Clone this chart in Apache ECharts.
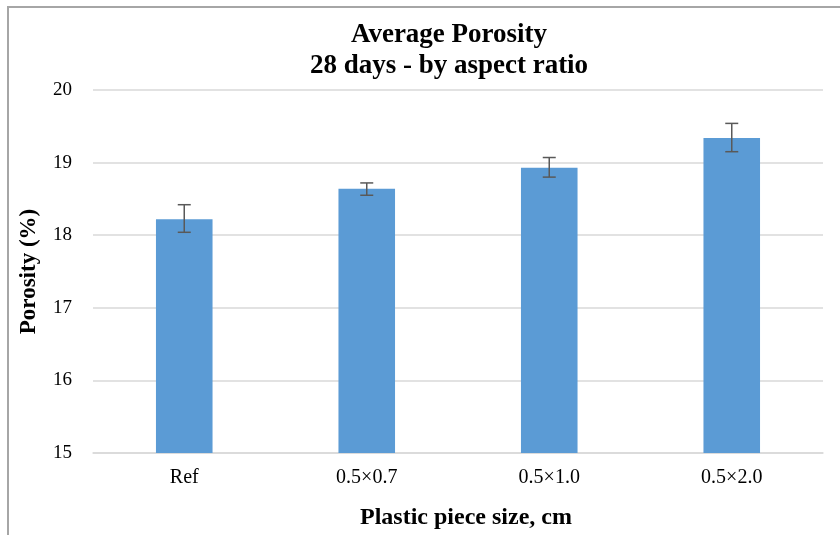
<!DOCTYPE html>
<html>
<head>
<meta charset="utf-8">
<script src="https://cdn.jsdelivr.net/npm/echarts@6/dist/echarts.min.js"></script>
<style>
html,body{margin:0;padding:0;background:#fff;}
#c{width:840px;height:535px;}
</style>
</head>
<body>
<div id="c"></div>
<script>
var categories = ['Ref', '0.5×0.7', '0.5×1.0', '0.5×2.0'];
var porosity = [18.22, 18.64, 18.93, 19.34];
var errLow = [18.04, 18.55, 18.80, 19.15];
var errHigh = [18.42, 18.72, 19.07, 19.54];
var yTicks = [15, 16, 17, 18, 19, 20];

var chart = echarts.init(document.getElementById('c'), null, {renderer: 'canvas'});
var serif = '"Liberation Serif", "Times New Roman", serif';

var errData = categories.map(function (c, i) { return [i, errLow[i], errHigh[i]]; });

chart.setOption({
  animation: false,
  backgroundColor: '#ffffff',
  title: {
    text: 'Average Porosity\n28 days - by aspect ratio',
    left: 444,
    textAlign: 'center',
    top: 15,
    textStyle: {fontFamily: serif, fontWeight: 'bold', fontSize: 27, color: '#000', lineHeight: 31}
  },
  graphic: [{
    type: 'rect',
    shape: {x: 8, y: 7, width: 850, height: 560},
    style: {fill: 'none', stroke: '#a6a6a6', lineWidth: 2},
    silent: true, z: -1
  }],
  grid: {left: 93, right: 17, top: 90, bottom: 82, outerBoundsMode: 'none', containLabel: false},
  xAxis: {
    type: 'category',
    data: categories,
    name: 'Plastic piece size, cm',
    nameLocation: 'middle',
    nameGap: 53,
    nameTextStyle: {fontFamily: serif, fontWeight: 'bold', fontSize: 24, color: '#000', padding: [0, 0, 0, 16]},
    axisLine: {lineStyle: {color: '#d9d9d9', width: 1.5}},
    axisTick: {show: false},
    axisLabel: {fontFamily: serif, fontSize: 20, color: '#000', margin: 15}
  },
  yAxis: {
    type: 'value',
    min: 15, max: 20, interval: 1,
    name: 'Porosity (%)',
    nameLocation: 'middle',
    nameGap: 52,
    nameTextStyle: {fontFamily: serif, fontWeight: 'bold', fontSize: 23, color: '#000'},
    axisLine: {show: false},
    axisTick: {show: false},
    axisLabel: {fontFamily: serif, fontSize: 19, color: '#000', margin: 21,
      formatter: function (v) { return yTicks.indexOf(v) >= 0 ? String(v) : ''; }},
    splitLine: {lineStyle: {color: '#d9d9d9', width: 1.5}}
  },
  series: [{
    type: 'bar',
    data: porosity,
    barWidth: '31%',
    itemStyle: {color: '#5b9bd5'}
  }, {
    type: 'custom',
    data: errData,
    z: 10,
    renderItem: function (params, api) {
      var x = api.value(0);
      var lo = api.coord([x, api.value(1)]);
      var hi = api.coord([x, api.value(2)]);
      var hw = 6.5;
      var st = {stroke: '#595959', lineWidth: 1.5};
      return {
        type: 'group',
        children: [
          {type: 'line', shape: {x1: lo[0], y1: lo[1], x2: hi[0], y2: hi[1]}, style: st},
          {type: 'line', shape: {x1: lo[0] - hw, y1: lo[1], x2: lo[0] + hw, y2: lo[1]}, style: st},
          {type: 'line', shape: {x1: hi[0] - hw, y1: hi[1], x2: hi[0] + hw, y2: hi[1]}, style: st}
        ]
      };
    }
  }]
});
</script>
</body>
</html>
